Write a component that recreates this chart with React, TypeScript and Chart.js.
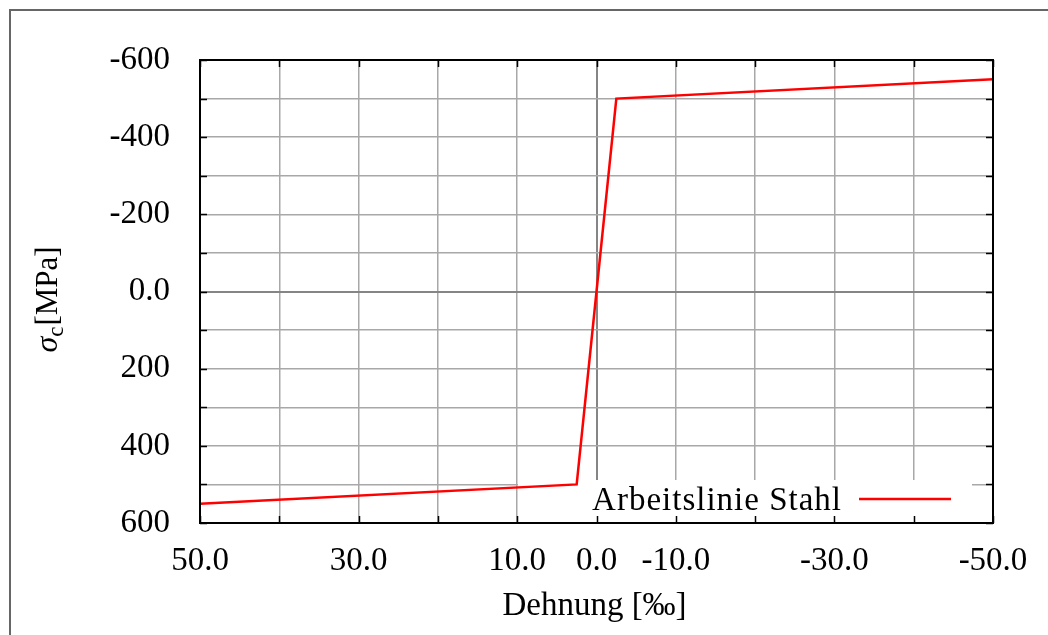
import React, { useEffect, useRef } from 'react';
import { Chart, registerables } from 'chart.js';

Chart.register(...registerables);

// ---- data ----
const strain = [50, 2.5, 0, -2.5, -50];
const stress = [550, 500, 0, -500, -550];
const xLabelValues = [50, 30, 10, 0, -10, -30, -50];
const yLabelValues = [-600, -400, -200, 0, 200, 400, 600];
const seriesLabel = 'Arbeitslinie Stahl';
const xTitle = 'Dehnung [‰]';
const yTitleSymbol = 'σ';
const yTitleSub = 'c';
const yTitleUnit = '[MPa]';

const FONT = "'Liberation Serif', 'Times New Roman', serif";

const decorPlugin = {
  id: 'decor',
  beforeDraw(chart: any) {
    const ctx = chart.ctx;
    ctx.save();
    ctx.strokeStyle = '#666666';
    ctx.lineWidth = 2;
    ctx.beginPath();
    ctx.moveTo(10, chart.height);
    ctx.lineTo(10, 10);
    ctx.lineTo(chart.width, 10);
    ctx.stroke();
    ctx.restore();
  },
  beforeDatasetsDraw(chart: any) {
    const { ctx, chartArea } = chart;
    ctx.save();
    ctx.fillStyle = '#ffffff';
    const left = chartArea.right - 475;
    const right = chartArea.right - 21;
    const top = chartArea.bottom - 43;
    ctx.fillRect(left, top, right - left, chartArea.bottom - top);
    ctx.restore();
  },
  afterDatasetsDraw(chart: any) {
    const { ctx, chartArea } = chart;
    const xs = chart.scales.x;
    const ys = chart.scales.y;
    ctx.save();
    // legend
    const ds = chart.data.datasets[0];
    ctx.font = `33px ${FONT}`;
    (ctx as any).letterSpacing = '1px';
    ctx.fillStyle = '#000';
    ctx.textAlign = 'right';
    ctx.textBaseline = 'alphabetic';
    ctx.fillText(ds.label, chartArea.right - 151, chartArea.bottom - 13);
    (ctx as any).letterSpacing = '0px';
    ctx.strokeStyle = ds.borderColor;
    ctx.lineWidth = ds.borderWidth;
    ctx.beginPath();
    ctx.moveTo(chartArea.right - 134, chartArea.bottom - 24);
    ctx.lineTo(chartArea.right - 42, chartArea.bottom - 24);
    ctx.stroke();

    // inner ticks on all four sides
    ctx.strokeStyle = '#000';
    ctx.lineWidth = 1.5;
    ctx.beginPath();
    xs.ticks.forEach((t: any) => {
      const px = Math.round(xs.getPixelForValue(t.value)) + 0.5;
      ctx.moveTo(px, chartArea.top);
      ctx.lineTo(px, chartArea.top + 7);
      ctx.moveTo(px, chartArea.bottom);
      ctx.lineTo(px, chartArea.bottom - 7);
    });
    ys.ticks.forEach((t: any) => {
      const py = Math.round(ys.getPixelForValue(t.value)) + 0.5;
      ctx.moveTo(chartArea.left, py);
      ctx.lineTo(chartArea.left + 7, py);
      ctx.moveTo(chartArea.right, py);
      ctx.lineTo(chartArea.right - 7, py);
    });
    ctx.stroke();

    // border
    ctx.lineWidth = 2;
    ctx.strokeRect(chartArea.left, chartArea.top, chartArea.right - chartArea.left, chartArea.bottom - chartArea.top);
    ctx.restore();
  },
  afterDraw(chart: any) {
    const { ctx, chartArea } = chart;
    ctx.save();
    ctx.fillStyle = '#000';
    // x title
    ctx.font = `33px ${FONT}`;
    ctx.textAlign = 'center';
    ctx.textBaseline = 'alphabetic';
    ctx.fillText(xTitle, (chartArea.left + chartArea.right) / 2 - 2, chartArea.bottom + 92);

    // y title rotated, with subscript
    const cy = (chartArea.top + chartArea.bottom) / 2 + 8;
    ctx.font = `italic 32px ${FONT}`;
    const wS = ctx.measureText(yTitleSymbol).width;
    ctx.font = `23px ${FONT}`;
    const wC = ctx.measureText(yTitleSub).width;
    ctx.font = `31px ${FONT}`;
    const wU = ctx.measureText(yTitleUnit).width;
    const total = wS + wC + wU + 1;
    ctx.translate(57, cy);
    ctx.rotate(-Math.PI / 2);
    ctx.textAlign = 'left';
    let x0 = -total / 2;
    ctx.font = `italic 32px ${FONT}`;
    ctx.fillText(yTitleSymbol, x0, 0);
    x0 += wS;
    ctx.font = `23px ${FONT}`;
    ctx.fillText(yTitleSub, x0, 6);
    x0 += wC + 1;
    ctx.font = `31px ${FONT}`;
    ctx.fillText(yTitleUnit, x0, 0);
    ctx.restore();
  },
};

const gridColor = (c: any) => (c.tick && c.tick.value === 0 ? '#858585' : '#a8a8a8');
const gridWidth = (c: any) => (c.tick && c.tick.value === 0 ? 2 : 1.5);

export default function App() {
  const ref = useRef<HTMLCanvasElement | null>(null);

  useEffect(() => {
    if (!ref.current) return;
    Chart.defaults.font.family = FONT;
    Chart.defaults.font.size = 33;
    Chart.defaults.color = '#000';
    const chart = new Chart(ref.current, {
      type: 'line',
      data: {
        datasets: [
          {
            label: seriesLabel,
            data: strain.map((x, i) => ({ x, y: stress[i] })),
            borderColor: '#ff0000',
            borderWidth: 2.5,
            pointRadius: 0,
            fill: false,
            tension: 0,
          },
        ],
      },
      options: {
        responsive: false,
        animation: false,
        layout: { padding: { top: 60, right: 55, left: 0, bottom: 0 } },
        plugins: {
          legend: { display: false },
          tooltip: { enabled: false },
        },
        scales: {
          x: {
            type: 'linear',
            min: -50,
            max: 50,
            reverse: true,
            afterFit: (s: any) => {
              s.height = 112;
            },
            grid: {
              drawTicks: false,
              color: gridColor,
              lineWidth: gridWidth,
            },
            border: { display: false },
            ticks: {
              stepSize: 10,
              autoSkip: false,
              maxRotation: 0,
              padding: 19,
              font: { size: 33, family: FONT },
              color: '#000',
              callback: (v: any) => (xLabelValues.includes(Number(v)) ? Number(v).toFixed(1) : ''),
            },
          },
          y: {
            type: 'linear',
            min: -600,
            max: 600,
            reverse: true,
            afterFit: (s: any) => {
              s.width = 200;
            },
            grid: {
              drawTicks: false,
              color: gridColor,
              lineWidth: gridWidth,
            },
            border: { display: false },
            ticks: {
              stepSize: 100,
              autoSkip: false,
              padding: 30,
              font: { size: 33, family: FONT },
              color: '#000',
              callback: (v: any) => {
                const n = Number(v);
                if (!yLabelValues.includes(n)) return '';
                return n === 0 ? '0.0' : String(n);
              },
            },
          },
        },
      },
      plugins: [decorPlugin],
    });
    return () => chart.destroy();
  }, []);

  return (
    <div style={{ position: 'fixed', left: 0, top: 0, width: 1048, height: 635, background: '#fff' }}>
      <canvas ref={ref} width={1048} height={635} style={{ display: 'block', width: 1048, height: 635 }} />
    </div>
  );
}
